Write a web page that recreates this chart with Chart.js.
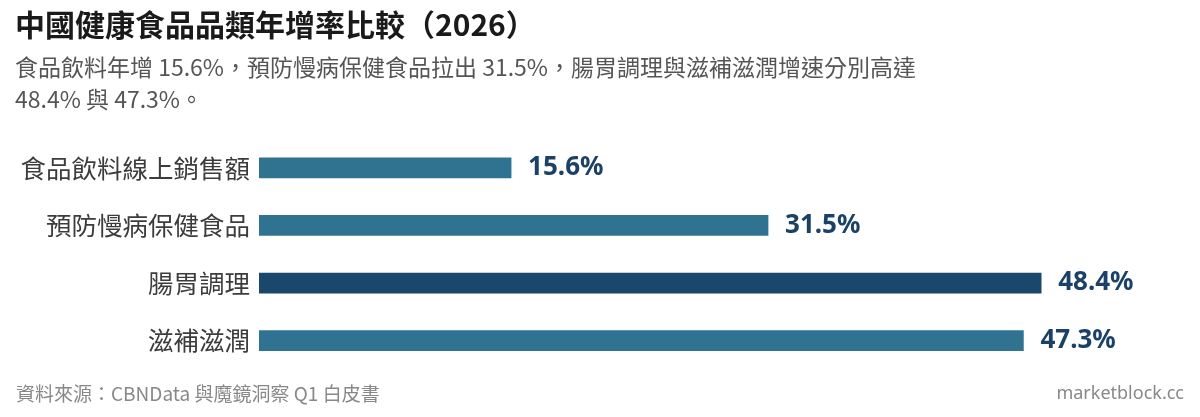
<!DOCTYPE html>
<html lang="zh-Hant">
<head>
<meta charset="utf-8">
<script src="https://cdn.jsdelivr.net/npm/chart.js@4"></script>
<style>
  html, body { margin: 0; padding: 0; background: #ffffff; }
  #wrap { position: relative; width: 1200px; height: 417px; }
</style>
</head>
<body>
<div id="wrap"><canvas id="c" width="1200" height="417" lang="zh-Hant"></canvas></div>
<script>
const categories = ['食品飲料線上銷售額', '預防慢病保健食品', '腸胃調理', '滋補滋潤'];
const growthValues = [15.6, 31.5, 48.4, 47.3];
const valueLabels = ['15.6%', '31.5%', '48.4%', '47.3%'];
const highlightIndex = [2];
const titleText = '中國健康食品品類年增率比較（2026）';
const subtitleLines = [
  '食品飲料年增 15.6%，預防慢病保健食品拉出 31.5%，腸胃調理與滋補滋潤增速分別高達',
  '48.4% 與 47.3%。'
];
const sourceText = '資料來源：CBNData 與魔鏡洞察 Q1 白皮書';
const brandText = 'marketblock.cc';

const FONT = '"Noto Sans", "Noto Sans CJK TC", sans-serif';
const CJKFONT = '"Noto Sans CJK TC", "Noto Sans", sans-serif';
const BAR = 'rgb(47,115,145)';
const BAR_HI = 'rgb(25,72,108)';
const LABEL = 'rgb(27,66,102)';

const textPlugin = {
  id: 'textPlugin',
  afterDraw(chart) {
    const ctx = chart.ctx;
    ctx.save();
    try { ctx.lang = 'zh-Hant'; } catch (e) {}
    ctx.textBaseline = 'middle';
    ctx.textAlign = 'left';
    ctx.fillStyle = '#1a1a1a';
    ctx.font = 'bold 30px ' + CJKFONT;
    ctx.fillText(titleText, 15, 25);
    ctx.fillStyle = '#555555';
    ctx.font = '23px ' + CJKFONT;
    subtitleLines.forEach((l, i) => ctx.fillText(l, 15, 67 + i * 32));
    ctx.fillStyle = '#888888';
    ctx.font = '19px ' + CJKFONT;
    ctx.fillText(sourceText, 16, 394);
    ctx.font = '18px ' + FONT;
    ctx.textAlign = 'right';
    ctx.fillText(brandText, 1184, 394);
    // value labels
    const meta = chart.getDatasetMeta(0);
    ctx.textAlign = 'left';
    ctx.fillStyle = LABEL;
    ctx.font = 'bold 26px ' + FONT;
    meta.data.forEach((bar, i) => {
      ctx.fillText(valueLabels[i], bar.x + 17, bar.y);
    });
    ctx.restore();
  }
};

new Chart(document.getElementById('c'), {
  type: 'bar',
  data: {
    labels: categories,
    datasets: [{
      data: growthValues,
      backgroundColor: growthValues.map((v, i) => highlightIndex.includes(i) ? BAR_HI : BAR),
      barThickness: 20,
      borderWidth: 0
    }]
  },
  options: {
    indexAxis: 'y',
    responsive: false,
    animation: false,
    devicePixelRatio: 1,
    layout: { padding: { top: 139, bottom: 47.5, left: 0, right: 41.5 } },
    plugins: {
      legend: { display: false },
      tooltip: { enabled: false },
      title: { display: false }
    },
    scales: {
      x: {
        display: false,
        min: 0,
        max: 55.66
      },
      y: {
        grid: { display: false, drawTicks: false },
        border: { display: false },
        ticks: {
          color: '#3c3c3c',
          font: { size: 25.5, family: CJKFONT },
          padding: 9
        },
        afterFit(scale) { scale.width = 259; }
      }
    }
  },
  plugins: [textPlugin]
});
</script>
</body>
</html>
